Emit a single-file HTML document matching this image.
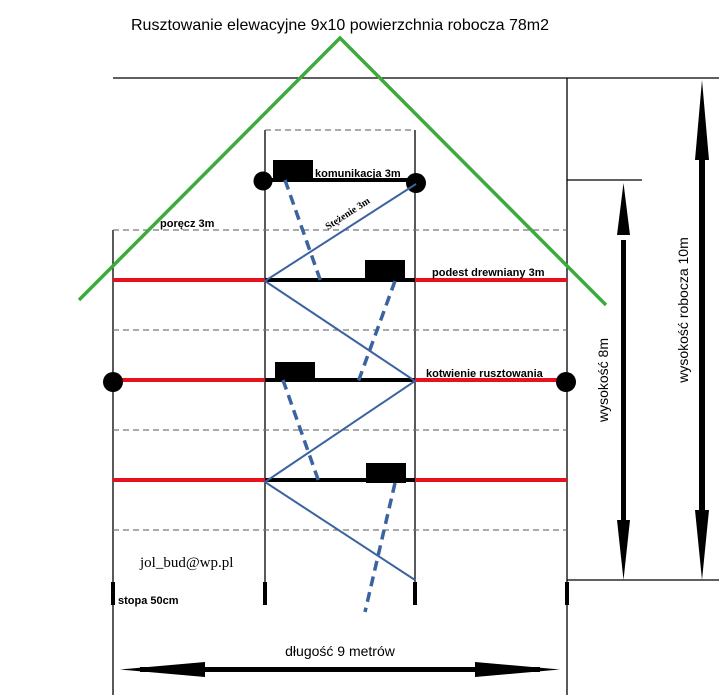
<!DOCTYPE html>
<html><head><style>body{margin:0;background:#fff}svg{display:block}</style></head><body>
<svg width="719" height="700" viewBox="0 0 719 700" xmlns="http://www.w3.org/2000/svg" font-family="Liberation Sans, sans-serif">
<text x="340" y="30" font-size="16" text-anchor="middle">Rusztowanie elewacyjne 9x10 powierzchnia robocza 78m2</text>
<g stroke="#000" stroke-width="1.3" fill="none">
<line x1="113" y1="78" x2="719" y2="78"/>
<line x1="567" y1="78" x2="567" y2="695"/>
<line x1="567" y1="180" x2="642" y2="180"/>
<line x1="567" y1="580" x2="719" y2="580"/>
<line x1="113" y1="230" x2="113" y2="695"/>
<line x1="265" y1="130" x2="265" y2="605"/>
<line x1="415" y1="130" x2="415" y2="605"/>
</g>
<g stroke="#777" stroke-width="1.2" stroke-dasharray="6,4">
<line x1="265" y1="130" x2="415" y2="130"/>
<line x1="113" y1="230" x2="567" y2="230"/>
<line x1="113" y1="330" x2="567" y2="330"/>
<line x1="113" y1="430" x2="567" y2="430"/>
<line x1="113" y1="530" x2="567" y2="530"/>
</g>
<g stroke="#e8101a" stroke-width="4">
<line x1="113" y1="280" x2="567" y2="280"/>
<line x1="113" y1="380" x2="567" y2="380"/>
<line x1="113" y1="480" x2="567" y2="480"/>
</g>
<g stroke="#000" stroke-width="4">
<line x1="265" y1="180" x2="415" y2="180"/>
<line x1="265" y1="280" x2="415" y2="280"/>
<line x1="265" y1="380" x2="415" y2="380"/>
<line x1="265" y1="480" x2="415" y2="480"/>
<line x1="113" y1="582" x2="113" y2="605"/>
<line x1="265" y1="582" x2="265" y2="605"/>
<line x1="415" y1="582" x2="415" y2="605"/>
<line x1="567" y1="582" x2="567" y2="605"/>
</g>
<g fill="#000">
<rect x="273" y="160" width="40" height="20"/>
<rect x="365" y="260" width="40" height="20"/>
<rect x="275" y="362" width="40" height="18"/>
<rect x="366" y="463" width="40" height="20"/>
<circle cx="263" cy="181" r="9.5"/>
<circle cx="416" cy="183" r="10"/>
<circle cx="113" cy="382" r="10"/>
<circle cx="566" cy="382" r="10"/>
</g>
<polyline points="416,184 265,281 415,381 265,482 415,580" fill="none" stroke="#3a63a0" stroke-width="2"/>
<g stroke="#3a63a0" stroke-width="3.5" stroke-dasharray="10,6">
<line x1="285" y1="180" x2="322" y2="285"/>
<line x1="395" y1="281" x2="357" y2="385"/>
<line x1="283" y1="380" x2="320" y2="485"/>
<line x1="395" y1="483" x2="365" y2="612"/>
</g>
<polyline points="79,300 340,38 606,305" fill="none" stroke="#3daa3d" stroke-width="3.5"/>
<g font-size="11" font-weight="bold">
<text x="160" y="227">poręcz 3m</text>
<text x="315" y="177">komunikacja 3m</text>
<text x="432" y="276">podest drewniany 3m</text>
<text x="426" y="377">kotwienie rusztowania</text>
<text x="118" y="604">stopa 50cm</text>
</g>
<text x="328" y="230" font-family="Liberation Serif, serif" font-size="10" font-weight="bold" transform="rotate(-33 328 230)">Stężenie 3m</text>
<text x="140" y="567" font-family="Liberation Serif, serif" font-size="15">jol_bud@wp.pl</text>
<text x="340" y="656" font-size="14" text-anchor="middle">długość 9 metrów</text>
<g fill="#000">
<rect x="140" y="667" width="400" height="5"/>
<polygon points="120,669.5 205,662 205,677"/>
<polygon points="560,669.5 475,662 475,677"/>
<rect x="621" y="240" width="5" height="290"/>
<polygon points="623.5,183 617,235 630,235"/>
<polygon points="623.5,580 617,520 630,520"/>
<rect x="699" y="150" width="6" height="370"/>
<polygon points="702,80 695,160 709,160"/>
<polygon points="702,580 695,510 709,510"/>
</g>
<text transform="translate(608 380) rotate(-90)" font-size="14" text-anchor="middle">wysokość 8m</text>
<text transform="translate(688 310) rotate(-90)" font-size="14" text-anchor="middle">wysokość robocza 10m</text>
</svg>
</body></html>
